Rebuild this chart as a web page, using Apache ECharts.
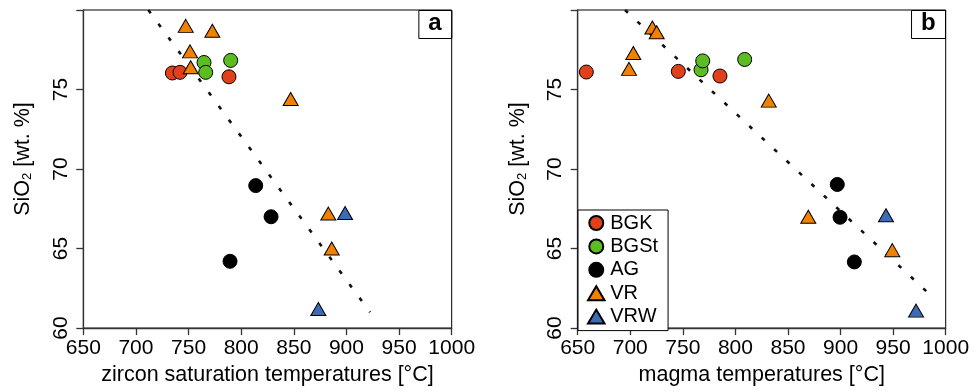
<!DOCTYPE html>
<html>
<head>
<meta charset="utf-8">
<script src="https://cdn.jsdelivr.net/npm/echarts@6/dist/echarts.min.js"></script>
<style>html,body{margin:0;padding:0;background:#fff;}#c{width:973px;height:391px;}</style>
</head>
<body>
<div id="c"></div>
<script>
// ---- data ----
var groups = ['BGK', 'BGSt', 'AG', 'VR', 'VRW'];
var xTicks = [650, 700, 750, 800, 850, 900, 950, 1000];
var yTicks = [60, 65, 70, 75, 80];

// panel a: zircon saturation temperature [°C], SiO2 [wt.%]
var a_BGK  = [[734.6, 76.04], [741.9, 76.08], [788.4, 75.8]];
var a_BGSt = [[764.7, 76.7], [766.3, 76.08], [790.0, 76.83]];
var a_AG   = [[813.8, 68.96], [828.4, 67.0], [789.4, 64.2]];
var a_VR   = [[747.3, 79.0], [772.6, 78.7], [751.4, 77.4], [752.0, 76.4], [847.0, 74.4], [882.8, 67.2], [886.0, 65.0]];
var a_VRW  = [[898.7, 67.24], [873.3, 61.2]];
var a_trend = [[711.8, 80.0], [922.4, 61.0]];

// panel b: magma temperature [°C], SiO2 [wt.%]
var b_BGK  = [[658.2, 76.1], [745.7, 76.14], [785.3, 75.85]];
var b_BGSt = [[767.3, 76.24], [768.9, 76.8], [808.8, 76.89]];
var b_AG   = [[896.9, 69.03], [899.5, 66.97], [913.1, 64.16]];
var b_VR   = [[721.0, 78.9], [725.1, 78.6], [702.9, 77.3], [698.8, 76.3], [831.7, 74.3], [869.3, 67.0], [949.2, 64.9]];
var b_VRW  = [[943.2, 67.1], [971.8, 61.1]];
var b_trend = [[695.0, 80.0], [983.5, 62.2]];

var colors = {BGK: '#E2401B', BGSt: '#5CBD22', AG: '#000000', VR: '#F18100', VRW: '#3C6CB4'};
var symbols = {BGK: 'circle', BGSt: 'circle', AG: 'circle', VR: 'triangle', VRW: 'triangle'};

var FONT = 'Liberation Sans, Arial, sans-serif';

function xAxis(idx, name) {
  return {
    type: 'value', gridIndex: idx, min: xTicks[0], max: xTicks[xTicks.length - 1], interval: 50,
    name: name, nameLocation: 'middle', nameGap: 32,
    nameTextStyle: {fontFamily: FONT, fontSize: 21.5, color: '#000'},
    axisLine: {show: true, onZero: false, lineStyle: {color: '#333', width: 1.3}},
    axisTick: {show: true, length: 7, lineStyle: {color: '#333', width: 1.3}},
    axisLabel: {fontFamily: FONT, fontSize: 21, color: '#000', margin: 10, showMinLabel: true, showMaxLabel: true,
      formatter: function (v) { return String(v); }},
    splitLine: {show: false}
  };
}
function yAxis(idx) {
  return {
    type: 'value', gridIndex: idx, min: yTicks[0], max: yTicks[yTicks.length - 1], interval: 5,
    name: 'SiO{sub|2} [wt. %]', nameLocation: 'middle', nameGap: 49, nameRotate: 90,
    nameTextStyle: {fontFamily: FONT, fontSize: 21.5, color: '#000', padding: [0, 0, 0, 20],
      rich: {sub: {fontFamily: FONT, fontSize: 13, color: '#000', verticalAlign: 'bottom', padding: [8, 0, 0, 0]}}},
    axisLine: {show: true, onZero: false, lineStyle: {color: '#333', width: 1.3}},
    axisTick: {show: true, length: 7, lineStyle: {color: '#333', width: 1.3}},
    axisLabel: {fontFamily: FONT, fontSize: 21, color: '#000', margin: 12, rotate: 90,
      formatter: function (v) { return v === yTicks[yTicks.length - 1] ? '' : String(v); }},
    splitLine: {show: false}
  };
}

var order = ['BGK', 'VR', 'BGSt', 'AG', 'VRW'];
var dataA = {BGK: a_BGK, BGSt: a_BGSt, AG: a_AG, VR: a_VR, VRW: a_VRW};
var dataB = {BGK: b_BGK, BGSt: b_BGSt, AG: b_AG, VR: b_VR, VRW: b_VRW};

var series = [];
[[0, dataA, a_trend], [1, dataB, b_trend]].forEach(function (p) {
  series.push({
    type: 'line', xAxisIndex: p[0], yAxisIndex: p[0], data: p[2], symbol: 'none', silent: true,
    lineStyle: {color: '#111', width: 2.6, type: [4, 13]}, z: 1
  });
  order.forEach(function (g) {
    series.push({
      name: g, type: 'scatter', xAxisIndex: p[0], yAxisIndex: p[0], data: p[1][g],
      symbol: symbols[g], symbolSize: symbols[g] === 'circle' ? 14 : [15, 13],
      itemStyle: {color: colors[g], borderColor: '#000', borderWidth: 1, opacity: 1}, z: 2
    });
  });
});

var TRI = 'path://M0,11 L6.5,0 L13,11 Z';
var legendData = groups.map(function (g) {
  return symbols[g] === 'triangle' ? {name: g, icon: TRI} : {name: g, icon: 'circle'};
});

var chart = echarts.init(document.getElementById('c'), null, {renderer: 'canvas'});
chart.setOption({
  animation: false,
  backgroundColor: '#fff',
  grid: [
    {left: 83.3, right: 521.3, top: 10, bottom: 59.3, show: true, borderColor: '#000', borderWidth: 1},
    {left: 577.7, right: 27.3, top: 10, bottom: 60.3, show: true, borderColor: '#000', borderWidth: 1}
  ],
  xAxis: [xAxis(0, 'zircon saturation temperatures [°C]'), xAxis(1, 'magma temperatures [°C]')],
  yAxis: [yAxis(0), yAxis(1)],
  title: [
    {text: 'a', right: 521.3, top: 10, padding: [0, 10, 2, 10], borderColor: '#000', borderWidth: 1,
      textStyle: {fontFamily: FONT, fontSize: 24, fontWeight: 'bold', color: '#000', lineHeight: 27}},
    {text: 'b', right: 27.3, top: 10, padding: [0, 10, 2, 10], borderColor: '#000', borderWidth: 1,
      textStyle: {fontFamily: FONT, fontSize: 24, fontWeight: 'bold', color: '#000', lineHeight: 27}}
  ],
  legend: {
    data: legendData, orient: 'vertical', left: 578, top: 210,
    itemWidth: 18, itemHeight: 14, itemGap: 3.4, symbolKeepAspect: true,
    padding: [3, 10, 4, 9], borderColor: '#000', borderWidth: 1, backgroundColor: '#fff',
    textStyle: {fontFamily: FONT, fontSize: 20, color: '#000', lineHeight: 20},
    selectedMode: false
  },
  series: series
});
</script>
</body>
</html>
